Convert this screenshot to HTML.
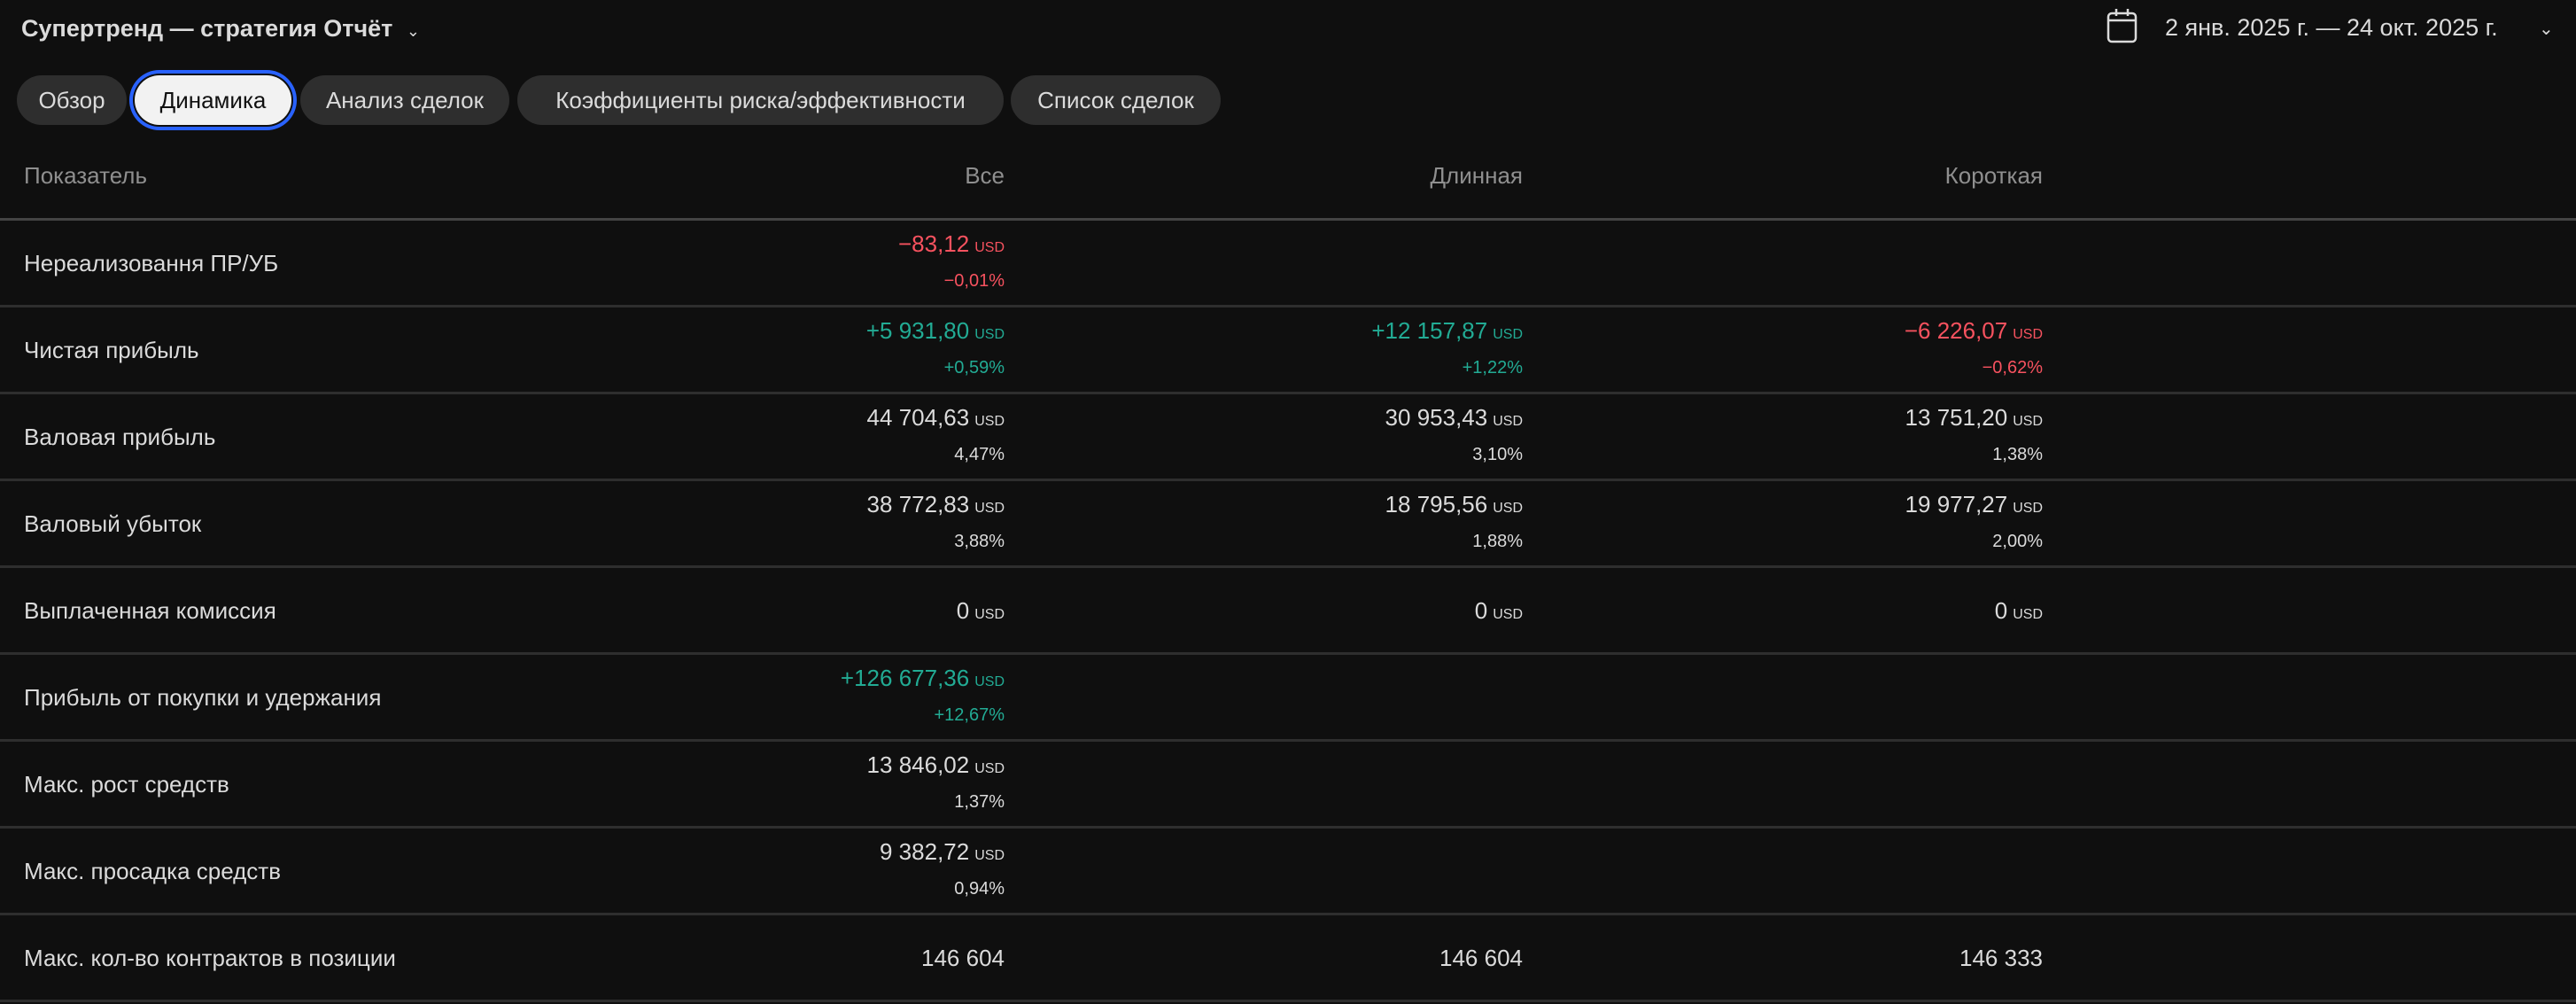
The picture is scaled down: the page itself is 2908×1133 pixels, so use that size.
<!DOCTYPE html>
<html><head><meta charset="utf-8"><style>
*{margin:0;padding:0;box-sizing:border-box}
body{width:2908px;height:1133px;background:#0f0f0f;overflow:hidden;position:relative;font-family:"Liberation Sans","DejaVu Sans",sans-serif;color:#dbdbdb}
.a{position:absolute;white-space:nowrap}
.tab{position:absolute;top:85px;height:56px;border-radius:28px;background:#2e2e2e;color:#dbdbdb;font-size:26px;line-height:56px;text-align:center}
.sel{background:#f2f2f2;color:#111;box-shadow:0 0 0 2px #0f0f0f,0 0 0 6px #2962ff}
.line{position:absolute;left:0;width:2908px;height:3px;background:#2e2e2e}
.lab{position:absolute;left:27px;font-size:26px;line-height:30px;color:#dbdbdb}
.v{position:absolute;text-align:right;font-size:26px;line-height:30px}
.v small{font-size:16px;margin-left:6px}
.p{position:absolute;text-align:right;font-size:20px;line-height:26px}
.g{color:#22ab94}.r{color:#f7525f}
.h{position:absolute;top:183px;font-size:26px;color:#8f8f8f;line-height:30px}
</style></head><body>
<div class="a" style="left:24px;top:16px;font-size:27px;font-weight:bold;line-height:32px">Супертренд — стратегия Отчёт <span style="font-weight:normal;font-size:18px;margin-left:8px">&#8964;</span></div>
<svg class="a" style="left:2378px;top:9px" width="36" height="40" viewBox="0 0 36 40"><rect x="2" y="6" width="31" height="32" rx="4" fill="none" stroke="#dbdbdb" stroke-width="2.5"/><line x1="2" y1="14" x2="33" y2="14" stroke="#dbdbdb" stroke-width="2.5"/><line x1="11" y1="1" x2="11" y2="9" stroke="#dbdbdb" stroke-width="2.5"/><line x1="24" y1="1" x2="24" y2="9" stroke="#dbdbdb" stroke-width="2.5"/></svg>
<div class="a" style="left:2444px;top:14px;font-size:27px;line-height:34px">2 янв. 2025 г. — 24 окт. 2025 г.</div>
<div class="a" style="left:2866px;top:20px;font-size:20px">&#8964;</div>

<div class="tab" style="left:19px;width:124px">Обзор</div>
<div class="tab sel" style="left:152px;width:177px">Динамика</div>
<div class="tab" style="left:339px;width:236px">Анализ сделок</div>
<div class="tab" style="left:584px;width:549px">Коэффициенты риска/эффективности</div>
<div class="tab" style="left:1141px;width:237px">Список сделок</div>

<div class="h" style="left:27px">Показатель</div>
<div class="h" style="right:1774px">Все</div>
<div class="h" style="right:1189px">Длинная</div>
<div class="h" style="right:602px">Короткая</div>
<div class="line" style="top:246px;background:#444"></div>

<div id="rows"></div>
<script>
var rows=[
["Нереализовання ПР/УБ",[["−83,12","−0,01%","r"],null,null]],
["Чистая прибыль",[["+5 931,80","+0,59%","g"],["+12 157,87","+1,22%","g"],["−6 226,07","−0,62%","r"]]],
["Валовая прибыль",[["44 704,63","4,47%",""],["30 953,43","3,10%",""],["13 751,20","1,38%",""]]],
["Валовый убыток",[["38 772,83","3,88%",""],["18 795,56","1,88%",""],["19 977,27","2,00%",""]]],
["Выплаченная комиссия",[["0",null,""],["0",null,""],["0",null,""]]],
["Прибыль от покупки и удержания",[["+126 677,36","+12,67%","g"],null,null]],
["Макс. рост средств",[["13 846,02","1,37%",""],null,null]],
["Макс. просадка средств",[["9 382,72","0,94%",""],null,null]],
["Макс. кол-во контрактов в позиции",[["146 604",null,"",1],["146 604",null,"",1],["146 333",null,"",1]]]
];
var R=[1774,1189,602],h="";
rows.forEach(function(r,k){
 var t=248+98*k;
 h+='<div class="lab" style="top:'+(t+34)+'px">'+r[0]+'</div>';
 r[1].forEach(function(c,i){
  if(!c)return;
  var u=c[3]?'':'<small>USD</small>';
  if(c[1]){
   h+='<div class="v '+c[2]+'" style="right:'+R[i]+'px;top:'+(t+12)+'px">'+c[0]+u+'</div>';
   h+='<div class="p '+c[2]+'" style="right:'+R[i]+'px;top:'+(t+56)+'px">'+c[1]+'</div>';
  }else{
   h+='<div class="v '+c[2]+'" style="right:'+R[i]+'px;top:'+(t+34)+'px">'+c[0]+u+'</div>';
  }
 });
 h+='<div class="line" style="top:'+(t+96)+'px"></div>';
});
document.getElementById('rows').innerHTML=h;
</script>
</body></html>
